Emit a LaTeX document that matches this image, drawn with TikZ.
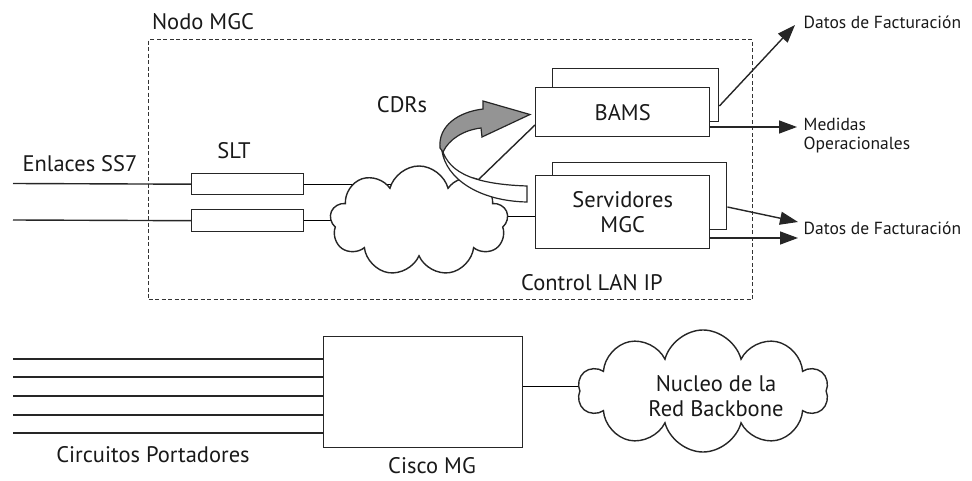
\documentclass[tikz,border=0pt]{standalone}
\usepackage{fontspec}
\setmainfont{PT Sans}
\usetikzlibrary{shapes.symbols,arrows.meta,backgrounds}
\begin{document}
\begin{tikzpicture}[x=1pt,y=-1pt,
 line width=1.4pt, draw=black!85,
 lbl/.style={font=\fontsize{22.5}{25}\selectfont, inner sep=0, text=black!90, align=center},
 small/.style={font=\fontsize{17.5}{19}\selectfont, inner sep=0, anchor=west, text=black!90, align=left},
 boxr/.style={draw=black!85, fill=white, inner sep=0, anchor=north west},
 arr/.style={-{Triangle[length=18pt,width=13pt]}},
 cloudn/.style={cloud, draw=black!85, fill=white, cloud ignores aspect, inner sep=0}]
\useasboundingbox (0,0) rectangle (972,481);

% frame
\node[draw=black!80, dash pattern=on 4pt off 2.5pt, line width=1.4pt, inner sep=0,
      minimum width=604pt, minimum height=260pt, anchor=north west] (frame) at (148,39) {};
\node[lbl] (nodo) at (203,22) {Nodo MGC};
\node[lbl] (ctrl) at (592,283) {Control LAN IP};

% SS7 links
\node[lbl] (enl) at (80,164) {Enlaces SS7};
\node[lbl] (sltl) at (234,151) {SLT};
\node[boxr, minimum width=112pt, minimum height=21pt] (slt1) at (191,173) {};
\node[boxr, minimum width=112pt, minimum height=22pt] (slt2) at (191,209) {};
\coordinate (in1) at (13,183.5);
\coordinate (in2) at (13,220);
\draw (in1) -- (slt1.west);
\draw (in2) -- (slt2.west);

% cloud 1
\node[cloudn, cloud puffs=9, minimum width=178pt, minimum height=110pt] (cloud1) at (419,221) {};

% BAMS
\node[boxr, minimum width=166pt, minimum height=53pt] (bamsb) at (552,68) {};
\node[boxr, minimum width=174pt, minimum height=49pt] (bams) at (535,87) {};
\node[lbl] at (bams.center) {BAMS};

% Servidores
\node[boxr, minimum width=174pt, minimum height=67pt] (servb) at (552,162) {};
\node[boxr, minimum width=174pt, minimum height=73pt] (serv) at (535,175) {};
\node[lbl] at (serv.center) {Servidores\\MGC};

\begin{scope}[on background layer]
\draw (slt1.east) -- (slt1.east -| cloud1.center);
\draw (slt2.east) -- (slt2.east -| cloud1.center);
\draw (serv.west |- 0,216) -- (cloud1.center |- 0,216);
\end{scope}

% line cloud -> BAMS
\coordinate (cb) at (476,182);
\draw (cb) -- (bams.south west |- 0,125);

% CDR twisted arrow
\node[lbl] (cdr) at (402,105) {CDRs};
\draw[fill=white, line width=1.2pt] (441,145) .. controls (446,170) and (468,184) .. (527,186)
   -- (527,202) .. controls (478,201) and (446,178) .. (442,151) -- cycle;
\draw[fill=black!42, line width=1.2pt] (440,148) .. controls (438,126) and (458,112) .. (483,109)
   -- (483,101) -- (530,114.5) -- (482,137) -- (481,128)
   .. controls (464,130) and (449,139) .. (443,152) -- cycle;

% output arrows
\coordinate (o1) at (795,25);
\coordinate (o2) at (797,127);
\coordinate (o3) at (798,222);
\coordinate (o4) at (798,238);
\draw[arr] (bamsb.east |- 0,106) -- (o1);
\draw[arr] (bams.east |- 0,127) -- (o2);
\draw[arr] (servb.east |- 0,207) -- (o3);
\draw[arr] (serv.east |- 0,238) -- (o4);
\node[small] (d1) at (803,22) {Datos de Facturación};
\node[small] (m1) at (803,136) {Medidas\\Operacionales};
\node[small] (d2) at (803,228) {Datos de Facturación};

% bottom part
\node[boxr, minimum width=199pt, minimum height=111pt] (cisco) at (323,336) {};
\node[lbl] (ciscol) at (432,466) {Cisco MG};
\node[lbl] (circ) at (153,455) {Circuitos Portadores};
\foreach \y [count=\i] in {359,377,396,415,433} {
  \coordinate (c\i) at (13,\y);
  \draw (c\i) -- (cisco.west |- c\i);
}
\node[cloudn, cloud puffs=10, minimum width=250pt, minimum height=122pt] (cloud2) at (703,391) {};
\node[lbl] (core) at (716,396) {Nucleo de la\\Red Backbone};
\begin{scope}[on background layer]
\draw (cisco.east |- 0,386) -- (cloud2.center |- 0,386);
\end{scope}
\end{tikzpicture}
\end{document}
